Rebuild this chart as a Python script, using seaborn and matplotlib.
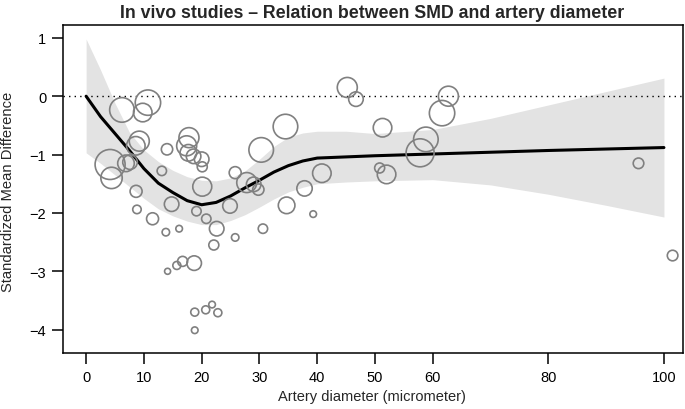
import matplotlib
matplotlib.use("Agg")
import matplotlib.pyplot as plt
import pandas as pd
import seaborn as sns

# study-level data: artery diameter, SMD and weight (bubble area)
diameter = [6.2, 10.7, 9.8, 9.2, 8.6, 4.15, 4.4, 6.9, 7.6, 14.0,
            17.8, 17.4, 17.7, 18.6, 20.0, 20.1, 13.1, 8.65, 20.1, 25.8,
            27.8, 29.0, 29.8, 30.3, 8.8, 11.5, 13.8, 16.1, 14.8, 19.1,
            20.8, 22.6, 24.9, 25.8, 22.1, 30.6, 18.7, 16.7, 15.7, 14.1,
            18.8, 20.7, 21.8, 22.8, 18.8, 45.2, 46.7, 62.7, 61.6, 58.8,
            57.8, 51.3, 50.8, 52.0, 34.5, 40.8, 37.8, 34.7, 39.3, 95.6,
            101.5]
smd = [-0.235, -0.11, -0.28, -0.77, -0.85, -1.17, -1.40, -1.15, -1.13, -0.91,
       -0.71, -0.85, -0.97, -1.03, -1.08, -1.21, -1.28, -1.63, -1.55, -1.31,
       -1.48, -1.51, -1.60, -0.92, -1.94, -2.10, -2.33, -2.27, -1.85, -1.97,
       -2.10, -2.27, -1.88, -2.42, -2.55, -2.27, -2.86, -2.83, -2.90, -3.00,
       -3.70, -3.66, -3.57, -3.71, -4.01, 0.15, -0.05, 0.00, -0.29, -0.74,
       -0.97, -0.54, -1.23, -1.34, -0.52, -1.32, -1.58, -1.87, -2.02, -1.15,
       -2.73]
weight = [151, 161, 86, 100, 86, 225, 114, 69, 53, 32,
          100, 100, 69, 53, 53, 25, 22, 36, 90, 36,
          100, 53, 32, 151, 18, 36, 14, 11, 53, 22,
          22, 53, 53, 14, 25, 22, 53, 25, 16, 9,
          16, 16, 11, 16, 11, 100, 53, 100, 161, 151,
          196, 86, 25, 86, 151, 86, 59, 69, 11, 28,
          28]

# meta-regression fit with confidence band
fit_x = [0, 2.5, 5, 7.5, 10, 12.5, 15, 17.5, 20, 22.5, 25, 27.5, 30,
         32.5, 35, 37.5, 40, 45, 50, 60, 70, 80, 90, 100]
fit_y = [0.0, -0.35, -0.64, -0.93, -1.24, -1.49, -1.65, -1.79, -1.86, -1.82,
         -1.71, -1.57, -1.44, -1.30, -1.19, -1.11, -1.06, -1.04, -1.02, -0.99,
         -0.96, -0.93, -0.905, -0.88]
band_hi = [0.98, 0.45, -0.12, -0.62, -0.92, -1.12, -1.27, -1.38, -1.44, -1.45,
           -1.40, -1.28, -1.08, -0.86, -0.70, -0.63, -0.60, -0.60, -0.64, -0.57,
           -0.38, -0.15, 0.08, 0.31]
band_lo = [-0.97, -1.15, -1.35, -1.55, -1.75, -1.93, -2.05, -2.14, -2.20, -2.20,
           -2.13, -2.03, -1.90, -1.76, -1.64, -1.56, -1.50, -1.47, -1.45, -1.43,
           -1.52, -1.68, -1.87, -2.07]

x_ticks = [0, 10, 20, 30, 40, 50, 60, 80, 100]
y_ticks = [1, 0, -1, -2, -3, -4]

studies = pd.DataFrame({"diameter": diameter, "smd": smd, "weight": weight})
fit = pd.DataFrame({"x": fit_x, "y": fit_y, "lo": band_lo, "hi": band_hi})

sns.set_theme(style="ticks")
plt.rcParams["font.family"] = ["Liberation Sans", "DejaVu Sans"]

fig = plt.figure(figsize=(6.85, 4.1), dpi=100)
ax = fig.add_axes([63 / 685, 1 - 354 / 410, 620 / 685, 328 / 410])

ax.fill_between(fit["x"], fit["lo"], fit["hi"], color="#e3e3e3", linewidth=0, zorder=1)
ax.axhline(0, color="black", linestyle=(0, (1, 3)), linewidth=1.0, zorder=2)
sns.lineplot(data=fit, x="x", y="y", color="black", linewidth=2.2, ax=ax, zorder=3)

# bubble area proportional to weight (1 weight unit = 1 px^2 of radius)
s_max = 250 * (2 * 0.72) ** 2
sns.scatterplot(data=studies, x="diameter", y="smd", size="weight",
                sizes=(0, s_max), size_norm=(0, 250), legend=False,
                facecolors="none", edgecolor="#808080", linewidth=1.2,
                ax=ax, zorder=4)

ax.set_xlim(-4, 103.3)
ax.set_ylim(-4.40, 1.22)
ax.set_xticks(x_ticks)
ax.set_yticks(y_ticks)
ax.set_yticklabels([str(v).replace("-", "\u2212") for v in y_ticks])
ax.tick_params(direction="out", length=8, width=1.1, colors="black",
               labelsize=10.5)
ax.tick_params(axis="x", pad=4.5)
ax.tick_params(axis="y", pad=4)
for sp in ax.spines.values():
    sp.set_visible(True)
    sp.set_linewidth(1.1)
    sp.set_color("black")
ax.set_xlabel("")
ax.set_ylabel("")

fig.text(372 / 685, 1 - 397 / 410, "Artery diameter (micrometer)",
         ha="center", va="center", fontsize=10.5)
fig.text(8 / 685, 1 - 192 / 410, "Standardized Mean Difference",
         ha="center", va="center", rotation=90, fontsize=10.6)
fig.text(372 / 685, 1 - 18.5 / 410,
         "In vivo studies \u2013 Relation between SMD and artery diameter",
         ha="center", va="baseline", fontsize=12.8, fontweight="bold")

fig.savefig("out.png", dpi=100)
